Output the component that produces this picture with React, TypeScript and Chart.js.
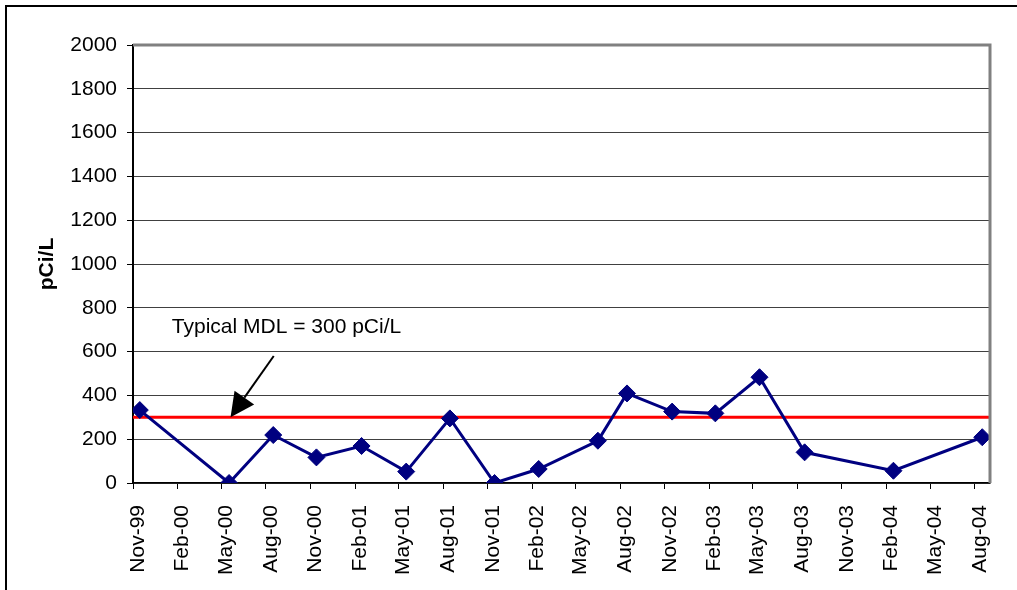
import React, { useEffect, useRef } from "react";
import { Chart, registerables } from "chart.js";

Chart.register(...registerables);

// Quarterly axis tick labels (first day of each month shown)
const quarterLabels = [
  "Nov-99", "Feb-00", "May-00", "Aug-00", "Nov-00", "Feb-01", "May-01",
  "Aug-01", "Nov-01", "Feb-02", "May-02", "Aug-02", "Nov-02", "Feb-03",
  "May-03", "Aug-03", "Nov-03", "Feb-04", "May-04", "Aug-04",
];

// Sampling dates and measured values (pCi/L)
const sampleDates = [
  "1999-11-15", "2000-05-17", "2000-08-16", "2000-11-13", "2001-02-14",
  "2001-05-17", "2001-08-15", "2001-11-15", "2002-02-14", "2002-06-16",
  "2002-08-15", "2002-11-16", "2003-02-13", "2003-05-15", "2003-08-16",
  "2004-02-15", "2004-08-16",
];
const sampleValues = [
  333, 0, 219, 117, 169, 52, 295, 0, 64, 193, 409, 326, 318, 483, 140, 56, 209,
];

const mdlValue = 300;
const mdlText = "Typical MDL = 300 pCi/L";
const yTitle = "pCi/L";
const axisStart = "1999-11-01";
const axisEnd = "2004-09-01";

const MON: Record<string, number> = {
  Jan: 0, Feb: 1, Mar: 2, Apr: 3, May: 4, Jun: 5, Jul: 6, Aug: 7, Sep: 8, Oct: 9, Nov: 10, Dec: 11,
};
const DAY = 86400000;
const isoToMs = (s: string) => {
  const [y, m, d] = s.split("-").map(Number);
  return Date.UTC(y, m - 1, d);
};
const originMs = isoToMs(axisStart);
const dayOfIso = (s: string) => (isoToMs(s) - originMs) / DAY;
const dayOfLabel = (l: string) => {
  const [m, yy] = l.split("-");
  const y = 2000 + Number(yy) - (Number(yy) > 50 ? 100 : 0);
  return (Date.UTC(y, MON[m], 1) - originMs) / DAY;
};

const FONT = "'Liberation Sans', Arial, sans-serif";

export default function App() {
  const ref = useRef<HTMLCanvasElement | null>(null);

  useEffect(() => {
    if (!ref.current) return;
    const tickDays = quarterLabels.map(dayOfLabel);
    const xMax = dayOfIso(axisEnd);

    const framePlugin = {
      id: "frame",
      beforeDraw(chart: any) {
        const ctx = chart.ctx;
        ctx.save();
        ctx.fillStyle = "#fff";
        ctx.fillRect(0, 0, chart.width, chart.height);
        ctx.strokeStyle = "#000";
        ctx.lineWidth = 2;
        ctx.beginPath();
        ctx.moveTo(5, 6);
        ctx.lineTo(chart.width, 6);
        ctx.moveTo(6, 5);
        ctx.lineTo(6, chart.height);
        ctx.stroke();
        ctx.restore();
      },
      afterDraw(chart: any) {
        const ctx = chart.ctx;
        const a = chart.chartArea;
        const xs = chart.scales.x;
        const ys = chart.scales.y;
        ctx.save();
        // plot area border (top / right)
        ctx.strokeStyle = "#808080";
        ctx.lineWidth = 3;
        ctx.beginPath();
        ctx.moveTo(a.left, a.top);
        ctx.lineTo(a.right, a.top);
        ctx.lineTo(a.right, a.bottom);
        ctx.stroke();
        // annotation text
        ctx.fillStyle = "#000";
        ctx.font = `21px ${FONT}`;
        ctx.textAlign = "left";
        ctx.textBaseline = "middle";
        ctx.fillText(mdlText, xs.getPixelForValue(80), ys.getPixelForValue(712));
        // arrow
        const x1 = xs.getPixelForValue(290), y1 = ys.getPixelForValue(580);
        const x2 = xs.getPixelForValue(201), y2 = ys.getPixelForValue(mdlValue);
        const ang = Math.atan2(y2 - y1, x2 - x1);
        const headLen = 24, headHalf = 12;
        const bx = x2 - headLen * Math.cos(ang), by = y2 - headLen * Math.sin(ang);
        ctx.strokeStyle = "#000";
        ctx.lineWidth = 2;
        ctx.beginPath();
        ctx.moveTo(x1, y1);
        ctx.lineTo(bx, by);
        ctx.stroke();
        ctx.beginPath();
        ctx.moveTo(x2, y2);
        ctx.lineTo(bx + headHalf * Math.sin(ang), by - headHalf * Math.cos(ang));
        ctx.lineTo(bx - headHalf * Math.sin(ang), by + headHalf * Math.cos(ang));
        ctx.closePath();
        ctx.fill();
        ctx.restore();
      },
    };

    const chart = new Chart(ref.current, {
      type: "line",
      data: {
        datasets: [
          {
            label: "Samples",
            data: sampleDates.map((d, i) => ({ x: dayOfIso(d), y: sampleValues[i] })),
            borderColor: "#000080",
            backgroundColor: "#000080",
            borderWidth: 3,
            pointStyle: "rectRot",
            pointRadius: 8.5,
            pointBorderWidth: 1,
            pointBackgroundColor: "#000080",
            pointBorderColor: "#000080",
            tension: 0,
            order: 1,
          },
          {
            label: "MDL",
            data: [
              { x: 0, y: mdlValue },
              { x: xMax, y: mdlValue },
            ],
            borderColor: "#ff0000",
            borderWidth: 3,
            pointRadius: 0,
            tension: 0,
            order: 2,
          },
        ],
      },
      options: {
        responsive: false,
        animation: false,
        events: [],
        layout: { padding: { left: 35, right: 27, top: 45, bottom: 0 } },
        plugins: {
          legend: { display: false },
          tooltip: { enabled: false },
        },
        scales: {
          x: {
            type: "linear",
            min: 0,
            max: xMax,
            afterBuildTicks: (s: any) => {
              s.ticks = tickDays.map((v) => ({ value: v }));
            },
            afterFit: (s: any) => {
              s.height = 590 - 483;
            },
            grid: {
              display: true,
              drawOnChartArea: false,
              drawTicks: true,
              tickLength: 6,
              color: "#000",
              lineWidth: 1,
            },
            border: { display: true, color: "#000", width: 1.5 },
            ticks: {
              autoSkip: false,
              minRotation: 90,
              maxRotation: 90,
              padding: 16,
              labelOffset: 5,
              color: "#000",
              font: { family: FONT, size: 21 },
              callback: (_v: any, i: number) => quarterLabels[i],
            },
          },
          y: {
            min: 0,
            max: 2000,
            afterFit: (s: any) => {
              s.width = 133 - 35;
            },
            grid: {
              color: "#404040",
              lineWidth: 1,
              tickLength: 6,
              tickColor: "#000",
            },
            border: { display: true, color: "#000", width: 2 },
            ticks: {
              stepSize: 200,
              padding: 10,
              color: "#000",
              font: { family: FONT, size: 21 },
              callback: (v: any) => String(v),
            },
            title: {
              display: true,
              text: yTitle,
              color: "#000",
              padding: { top: 0, bottom: 0 },
              font: { family: FONT, size: 21, weight: "bold" },
            },
          },
        },
      },
      plugins: [framePlugin],
    });
    return () => chart.destroy();
  }, []);

  return (
    <div style={{ position: "fixed", left: 0, top: 0, width: 1017, height: 590 }}>
      <canvas ref={ref} width={1017} height={590} style={{ width: 1017, height: 590 }} />
    </div>
  );
}
